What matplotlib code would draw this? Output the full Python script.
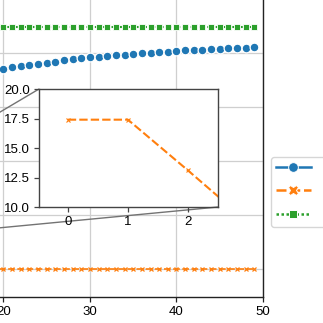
import matplotlib
matplotlib.use("Agg")
import matplotlib.pyplot as plt
from matplotlib.lines import Line2D
from mpl_toolkits.axes_grid1.inset_locator import mark_inset

plt.rcParams['font.family'] = ['Liberation Sans', 'DejaVu Sans']
plt.rcParams['font.size'] = 9.5

# Series values, one per step (0..49)
steps = list(range(50))
labels = ['score', 'loss', 'baseline']

score = [52.0, 55.2, 57.8, 60.0, 61.9, 63.5, 64.9, 66.1, 67.2, 68.2,
         69.1, 69.9, 70.6, 71.2, 71.8, 72.3, 72.8, 73.2, 73.5, 73.8,
         74.1, 74.6, 75.0, 75.5, 76.0, 76.4, 76.8, 77.2, 77.6, 78.0,
         78.3, 78.6, 78.9, 79.2, 79.4, 79.6, 79.9, 80.1, 80.3, 80.5,
         80.7, 80.9, 81.0, 81.2, 81.4, 81.5, 81.7, 81.8, 82.0, 82.2]
loss = [17.4, 17.4, 13.1, 8.7, 4.4, 0.0, 0.0, 0.0, 0.0, 0.0,
        0.0, 0.0, 0.0, 0.0, 0.0, 0.0, 0.0, 0.0, 0.0, 0.0,
        0.0, 0.0, 0.0, 0.0, 0.0, 0.0, 0.0, 0.0, 0.0, 0.0,
        0.0, 0.0, 0.0, 0.0, 0.0, 0.0, 0.0, 0.0, 0.0, 0.0,
        0.0, 0.0, 0.0, 0.0, 0.0, 0.0, 0.0, 0.0, 0.0, 0.0]
baseline = [89.6, 89.6, 89.6, 89.6, 89.6, 89.6, 89.6, 89.6, 89.6, 89.6,
            89.6, 89.6, 89.6, 89.6, 89.6, 89.6, 89.6, 89.6, 89.6, 89.6,
            89.6, 89.6, 89.6, 89.6, 89.6, 89.6, 89.6, 89.6, 89.6, 89.6,
            89.6, 89.6, 89.6, 89.6, 89.6, 89.6, 89.6, 89.6, 89.6, 89.6,
            89.6, 89.6, 89.6, 89.6, 89.6, 89.6, 89.6, 89.6, 89.6, 89.6]

x_ticks = [0, 10, 20, 30, 40, 50]
y_ticks = [0, 20, 40, 60, 80, 100]
inset_xticks = [0, 1, 2]
inset_yticks = [10.0, 12.5, 15.0, 17.5, 20.0]

colors = ['#1f77b4', '#ff7f0e', '#2ca02c']

# Figure layout in pixels (323 x 323 canvas)
W = H = 323
def px_box(left, top, right, bottom):
    return [left / W, (H - bottom) / H, (right - left) / W, (bottom - top) / H]

fig = plt.figure(figsize=(W / 100, H / 100), dpi=100)

# Main axes: only the lower right part lands on the canvas
ax = fig.add_axes(px_box(-178.2, -14.6, 263, 297))
ax.plot(steps, score, color=colors[0], lw=1.5, marker='o', ms=6.3,
        mec='white', mew=0.9, zorder=3)
ax.plot(steps, loss, color=colors[1], lw=1.2, ls=(0, (4, 1.5)), marker='x',
        ms=3.5, mew=0.9, zorder=3)
ax.plot(steps, baseline, color=colors[2], lw=1.5, ls=(0, (1, 1)), marker='s',
        ms=4.2, mec='white', mew=0.6, zorder=3)
ax.set_xlim(-1, 50)
ax.set_ylim(-10.4, 105)
ax.set_xticks(x_ticks)
ax.set_yticks(y_ticks)
ax.grid(True, color='#cfcfcf', lw=0.9)
ax.set_axisbelow(True)
for side in ['right', 'bottom', 'left', 'top']:
    ax.spines[side].set_color('#222222')
    ax.spines[side].set_linewidth(1.0)
ax.tick_params(length=3.5, width=0.9, pad=3, color='#222222')

# Inset: zoom on the first steps of the loss curve
axins = fig.add_axes(px_box(39, 89, 218, 207))
axins.plot(steps, loss, color=colors[1], lw=1.5, ls=(0, (4, 1.5)),
           marker='x', ms=3, mew=0.8)
axins.set_xlim(-0.48, 2.5)
axins.set_ylim(10, 20)
axins.set_xticks(inset_xticks)
axins.set_yticks(inset_yticks)
axins.set_yticklabels(['%.1f' % v for v in inset_yticks])
for side in axins.spines:
    axins.spines[side].set_color('#444444')
    axins.spines[side].set_linewidth(1.0)
axins.tick_params(length=3.5, width=0.9, pad=3, color='#444444')

# Connect upper-left and lower-right corners to the zoomed region
mark_inset(ax, axins, loc1=2, loc2=4, fc='none', ec='0.45', lw=1.0)

# Legend sits to the right of the main axes
handles = [
    Line2D([], [], color=colors[0], lw=1.8, marker='o', ms=7, mec='white', mew=0.7),
    Line2D([], [], color=colors[1], lw=1.8, ls=(0, (4, 1.5)), marker='X', ms=7.5,
           mec='white', mew=0.7),
    Line2D([], [], color=colors[2], lw=1.8, ls=(0, (1, 1)), marker='s', ms=6,
           mec='white', mew=0.7),
]
fig.legend(handles, labels, loc='upper left',
           bbox_to_anchor=(271 / W, 1 - 157 / H), borderaxespad=0,
           handlelength=2.6, handletextpad=1.2, labelspacing=0.85)

fig.savefig('out.png', dpi=100)
